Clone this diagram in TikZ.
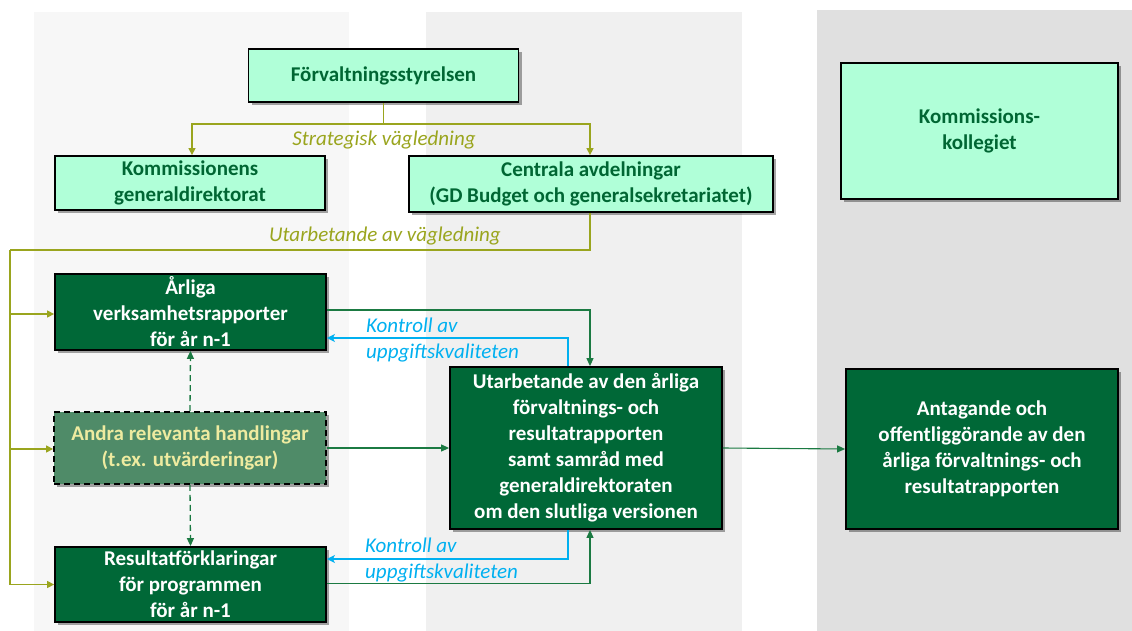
\documentclass[tikz,border=0pt]{standalone}
\usepackage{fontspec}
\setmainfont{Carlito}
\usetikzlibrary{arrows.meta,shadows,calc}
\definecolor{pan1}{HTML}{F7F7F7}
\definecolor{pan2}{HTML}{F0F0F0}
\definecolor{pan3}{HTML}{E0E0E0}
\definecolor{mint}{HTML}{B0FFD8}
\definecolor{dkgreen}{HTML}{006837}
\definecolor{txtgreen}{HTML}{006633}
\definecolor{andrafill}{HTML}{4F8B68}
\definecolor{andratxt}{HTML}{EEEBA0}
\definecolor{olive}{HTML}{9AA51E}
\definecolor{skyblue}{HTML}{00B0F0}
\definecolor{lnkgreen}{HTML}{1B7A42}
\tikzset{
  boxbase/.style={draw=black,line width=1.8pt,align=center,inner xsep=2pt,inner ysep=0pt,
    font=\fontsize{21}{26}\selectfont\bfseries,
    drop shadow={shadow xshift=3pt,shadow yshift=-3pt,opacity=0.35,fill=black}},
  lightbox/.style={boxbase,fill=mint,text=txtgreen},
  darkbox/.style={boxbase,fill=dkgreen,text=white},
  andrabox/.style={boxbase,dashed,dash pattern=on 6pt off 4pt,fill=andrafill,text=andratxt},
  olivearrow/.style={draw=olive,line width=1.3pt,-{Triangle[width=7pt,length=7pt]}},
  oliveline/.style={draw=olive,line width=1.3pt},
  greenarrow/.style={draw=lnkgreen,line width=1.1pt,-{Triangle[width=7pt,length=8pt]}},
  dasharrow/.style={draw=lnkgreen,line width=1.3pt,dash pattern=on 6pt off 4pt,-{Triangle[width=7pt,length=8pt]}},
  bluearrow/.style={draw=skyblue,line width=2pt,-{Stealth[width=8pt,length=8pt,inset=2pt]}},
  olivelabel/.style={text=olive,font=\fontsize{21}{26}\selectfont\itshape},
  bluelabel/.style={text=skyblue,font=\fontsize{21}{26}\selectfont\itshape,align=left,anchor=west,inner sep=0pt}
}
\begin{document}
\begin{tikzpicture}[x=1pt,y=-1pt]
\useasboundingbox (0,0) rectangle (1132,631);
\fill[white] (0,0) rectangle (1132,631);
\fill[pan1] (34,12) rectangle (349,631);
\fill[pan2] (426,12) rectangle (742,631);
\fill[pan3] (817,10) rectangle (1132,631);

\node[lightbox,minimum width=270pt,minimum height=53pt] (fs) at (383.5,75.5) {Förvaltningsstyrelsen};
\node[lightbox,minimum width=270pt,minimum height=54pt] (kg) at (190,183) {Kommissionens\\generaldirektorat};
\node[lightbox,minimum width=364pt,minimum height=56pt] (ca) at (591,184) {Centrala avdelningar\\(GD Budget och generalsekretariatet)};
\node[lightbox,minimum width=277pt,minimum height=136pt] (kk) at (979.5,131) {Kommissions-\\kollegiet};

\node[darkbox,minimum width=271pt,minimum height=76pt] (ar) at (190.5,312) {Årliga\\verksamhetsrapporter\\för år n-1};
\node[andrabox,minimum width=272pt,minimum height=72pt] (an) at (190,448) {Andra relevanta handlingar\\(t.ex. utvärderingar)};
\node[darkbox,minimum width=271pt,minimum height=75pt] (rf) at (190.5,584.5) {Resultatförklaringar\\för programmen\\för år n-1};
\node[darkbox,minimum width=272pt,minimum height=162pt] (ut) at (586,448) {Utarbetande av den årliga\\förvaltnings- och\\resultatrapporten\\samt samråd med\\generaldirektoraten\\om den slutliga versionen};
\node[darkbox,minimum width=272pt,minimum height=160pt] (ag) at (982,449) {Antagande och\\offentliggörande av den\\årliga förvaltnings- och\\resultatrapporten};

% strategic guidance
\coordinate (j1) at (383.5,124);
\draw[oliveline] (fs.south) -- (j1);
\draw[olivearrow] (j1) -| ([xshift=2pt]kg.north);
\draw[olivearrow] (j1) -| ([xshift=-1pt]ca.north);
\node[olivelabel] (sl) at (384,140) {Strategisk vägledning};

% preparation of guidance
\coordinate (c1) at (10,250);
\draw[oliveline] ([xshift=-1pt]ca.south) |- (c1);
\draw[olivearrow] (c1) |- ([yshift=-2pt]ar.west);
\draw[olivearrow] (c1) |- ([yshift=-1pt]an.west);
\draw[olivearrow] (c1) |- (rf.west);
\node[olivelabel] (ul) at (385,236) {Utarbetande av vägledning};

% green links
\draw[greenarrow] ([yshift=2pt]ar.east) -| ([xshift=4pt]ut.north);
\draw[greenarrow] (an.east) -- (ut.west);
\draw[greenarrow] ([yshift=1pt]rf.east) -| ([xshift=4pt]ut.south);
\draw[greenarrow] (ut.east) -- (ag.west);
\draw[dasharrow] (an.north) -- (ar.south);
\draw[dasharrow] (an.south) -- (rf.north);

% quality control
\draw[bluearrow] ([xshift=-18pt]ut.north) |- ([yshift=-26pt]ar.east);
\draw[bluearrow] ([xshift=-18pt]ut.south) |- ([yshift=25.5pt]rf.east);
\node[bluelabel] (k1) at (366,340) {Kontroll av\\uppgiftskvaliteten};
\node[bluelabel] (k2) at (365,560) {Kontroll av\\uppgiftskvaliteten};
\end{tikzpicture}
\end{document}
